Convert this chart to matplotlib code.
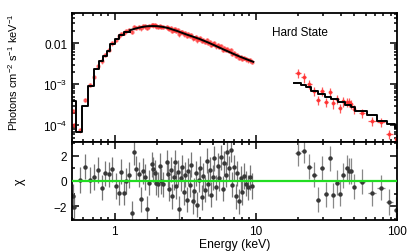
import numpy as np
import matplotlib
matplotlib.use("Agg")
import matplotlib.pyplot as plt
from matplotlib.ticker import LogLocator, NullFormatter, FixedLocator, MultipleLocator

plt.rcParams['font.family'] = ['Liberation Sans', 'DejaVu Sans']
plt.rcParams['mathtext.fontset'] = 'custom'
plt.rcParams['mathtext.rm'] = 'Liberation Sans'
plt.rcParams['mathtext.it'] = 'Liberation Sans'

# ---- model (soft band, stepped part) ----
soft_edges = [0.499, 0.538, 0.588, 0.645, 0.72, 0.773, 0.825, 0.881, 0.932, 1.0, 1.073, 1.16, 1.28]
soft_steps = [3.9e-4, 7e-5, 2.9e-4, 9.1e-4, 2.3e-3, 3.7e-3, 4.9e-3, 6.5e-3, 9.5e-3, 0.0126, 0.0157, 0.019]

# ---- model (soft band, fine binned part) ----
smooth_e = [1.28, 1.4, 1.55, 1.7, 1.85, 2.0, 2.2, 2.4, 2.6, 2.8, 3.0, 3.3, 3.6, 4.0, 4.4,
            4.8, 5.3, 5.8, 6.4, 7.0, 7.7, 8.5, 9.2, 9.6]
smooth_f = [0.0205, 0.0225, 0.0245, 0.0257, 0.026, 0.0258, 0.0248, 0.0232, 0.0212, 0.0195,
            0.0178, 0.0158, 0.0143, 0.0126, 0.011, 0.0097, 0.0083, 0.0072, 0.0062, 0.0054,
            0.0047, 0.0041, 0.0037, 0.0035]

# ---- model (hard band) ----
hard_edges = [18.8, 20.9, 22.8, 24.7, 27.5, 30.7, 34.2, 38.2, 42.6, 47.5, 50.3, 60.9, 71.9, 84.8, 97.5, 103]
hard_steps = [1.05e-3, 9.5e-4, 8.3e-4, 6.9e-4, 5.9e-4, 5.0e-4, 4.3e-4, 3.7e-4, 3.1e-4, 2.7e-4,
              2.2e-4, 1.8e-4, 1.3e-4, 1.1e-4, 8.7e-5]

# ---- soft data ----
soft_e = [0.505, 0.515, 0.57, 0.62, 0.67, 0.72, 0.77, 0.82, 0.86, 0.91, 0.96, 1.02, 1.07, 1.12, 1.17,
          1.21, 1.27, 1.32, 1.37, 1.43, 1.48, 1.53, 1.58, 1.64, 1.70, 1.76, 1.83, 1.88, 1.93, 1.98,
          2.04, 2.10, 2.15, 2.21, 2.34, 2.40, 2.45, 2.5, 2.56, 2.62, 2.68, 2.74, 2.8, 2.87, 2.94,
          3.01, 3.08, 3.16, 3.24, 3.32, 3.4, 3.48, 3.57, 3.66, 3.75, 3.85, 3.95, 4.05, 4.15, 4.26,
          4.37, 4.48, 4.6, 4.72, 4.84, 4.97, 5.1, 5.24, 5.38, 5.52, 5.67, 5.82, 5.98, 6.14, 6.3,
          6.47, 6.64, 6.82, 7.0, 7.2, 7.4, 7.6, 7.82, 8.05, 8.3, 8.56, 8.83, 9.1, 9.4]
soft_flux = [2.2e-4, 1.0e-4, 7.5e-5, 4.2e-4, 9.5e-4, 1.5e-3, 2.8e-3, 3.6e-3, 5.1e-3, 6.8e-3, 9.9e-3,
             0.0122, 0.0150, 0.0165, 0.0180, 0.0195, 0.0210, 0.0190, 0.024, 0.0238, 0.0241, 0.0228,
             0.0255, 0.0255, 0.0234, 0.0256, 0.0273, 0.0270, 0.0268, 0.0256, 0.0253, 0.0266, 0.0250,
             0.0245, 0.0251, 0.0237, 0.0219, 0.0234, 0.0200, 0.0214, 0.0223, 0.0195, 0.0203, 0.0164,
             0.0185, 0.0189, 0.0164, 0.0172, 0.0147, 0.0165, 0.0150, 0.0161, 0.0130, 0.0133, 0.0141,
             0.0117, 0.0129, 0.0131, 0.0111, 0.0119, 0.0107, 0.0118, 0.0103, 0.0105, 0.0090, 0.0094,
             0.0099, 0.0083, 0.0088, 0.0080, 0.0085, 0.0069, 0.0075, 0.0069, 0.0073, 0.0065, 0.0068,
             0.0055, 0.0058, 0.0048, 0.0052, 0.0043, 0.0047, 0.0042, 0.0043, 0.0040, 0.0038, 0.0038,
             0.0035]
soft_chi = [-1.2, -2.1, 0.08, 1.14, 0.08, 0.32, 0.87, -0.52, 0.61, 0.53, 0.93, -0.4, -0.92, 0.74, -0.92,
            0.0, 0.48, -2.56, 2.3, 0.98, 0.53, -1.45, 0.8, 0.32, -2.19, -0.13, 1.32, 0.93, 0.66, -0.13,
            -0.26, 1.19, 0.0, -0.26, 1.5, 0.53, -0.6, 0.9, -1.2, 0.3, 1.5, -0.4, 0.7, -2.2, 0.2,
            1.1, -0.9, 0.5, -1.5, 0.8, -0.3, 1.3, -1.6, -0.8, 0.6, -1.9, 0.1, 1.0, -1.3, 0.4,
            -0.7, 1.6, -0.2, 0.9, -1.1, 0.3, 1.8, -0.5, 1.2, 0.2, 1.9, -0.6, 1.4, 0.5, 2.3,
            1.0, 2.5, -0.3, 1.1, -1.2, 0.6, -1.6, 0.2, -0.9, 0.4, -0.2, -0.5, 0.3, -0.4]

# ---- hard data ----
hard_e = [20.0, 21.9, 24.0, 26.0, 27.8, 29.6, 31.6, 33.8, 35.5, 37.6, 39.4, 41.5, 43.9, 45.9, 47.5,
          49.6, 56.5, 66.5, 77.1, 88.0, 99.0]
hard_xerr = [0.9, 0.9, 1.0, 1.0, 0.9, 0.9, 1.0, 1.0, 0.9, 1.0, 1.0, 1.0, 1.1, 1.0, 0.8, 1.0, 3.0,
             4.0, 5.0, 5.0, 1.5]
hard_flux = [1.86e-3, 1.46e-3, 1.0e-3, 6.9e-4, 4.1e-4, 6.9e-4, 3.7e-4, 6.5e-4, 3.4e-4, 4.3e-4,
             2.6e-4, 3.8e-4, 3.7e-4, 3.6e-4, 3.3e-4, 2.5e-4, 2.0e-4, 1.3e-4, 1.2e-4, 6.0e-5, 4.6e-5]
hard_chi = [2.2, 2.4, 1.15, 0.5, -1.5, 1.0, -1.05, 1.8, -1.13, -0.13, -1.0, 0.45, 1.03, 0.8, 0.8,
            -0.45, -0.05, -0.98, -0.53, -1.67, -2.3]

red = '#ff3030'
W, H = 415, 253
fig = plt.figure(figsize=(W / 100, H / 100), dpi=100)
ax1 = fig.add_axes([72 / W, 1 - 143 / H, 325 / W, 129 / H])
ax2 = fig.add_axes([72 / W, 1 - 221 / H, 325 / W, 78 / H], sharex=ax1)

# top panel
sf = np.array(soft_flux)
ax1.errorbar(soft_e, soft_flux, yerr=0.12 * sf, fmt='o', ms=2.2, color=red, alpha=0.55,
             ecolor=red, elinewidth=0.9, capsize=0, zorder=2)
hf = np.array(hard_flux)
ax1.errorbar(hard_e, hard_flux, yerr=0.25 * hf, xerr=hard_xerr, fmt='o', ms=1.8, color=red,
             alpha=0.8, ecolor=red, elinewidth=0.9, capsize=0, zorder=2)
ax1.step(soft_edges, soft_steps + [soft_steps[-1]], where='post', color='black', lw=1.4, zorder=3)
ax1.plot(smooth_e, smooth_f, color='black', lw=1.4, zorder=3)
ax1.step(hard_edges, hard_steps + [hard_steps[-1]], where='post', color='black', lw=1.4, zorder=3)

ax1.set_xscale('log')
ax1.set_yscale('log')
ax1.set_xlim(0.5, 100)
ax1.set_ylim(3.9e-5, 0.054)
ax1.set_yticks([1e-4, 1e-3, 1e-2])
ax1.set_yticklabels(['$10^{-4}$', '$10^{-3}$', '0.01'])
ax1.yaxis.set_minor_locator(LogLocator(base=10, subs=np.arange(2, 10)))
ax1.yaxis.set_minor_formatter(NullFormatter())
ax1.set_ylabel('Photons cm$^{-2}$ s$^{-1}$ keV$^{-1}$', fontsize=7.9)
ax1.yaxis.set_label_coords(-0.16, 0.55)
ax1.text(0.70, 0.85, 'Hard State', transform=ax1.transAxes, ha='center', va='center', fontsize=8.5)
plt.setp(ax1.get_xticklabels(), visible=False)

# residual panel
ax2.errorbar(soft_e, soft_chi, yerr=1.0, fmt='o', ms=2.2, color='#383838', ecolor='#777777',
             elinewidth=0.9, capsize=0, zorder=2)
ax2.errorbar(hard_e, hard_chi, yerr=1.0, xerr=hard_xerr, fmt='o', ms=2.2, color='#383838',
             ecolor='#888888', elinewidth=0.9, capsize=0, zorder=2)
ax2.axhline(0, color='#22dd22', lw=1.6, zorder=3)
ax2.set_ylim(-3.1, 3.1)
ax2.yaxis.set_major_locator(FixedLocator([-2, 0, 2]))
ax2.yaxis.set_minor_locator(MultipleLocator(1))
ax2.set_ylabel('χ', fontsize=9)
ax2.yaxis.set_label_coords(-0.142, 0.5)
ax2.set_xlabel('Energy (keV)', fontsize=8.7, labelpad=1)
ax2.xaxis.set_major_locator(FixedLocator([1, 10, 100]))
ax2.set_xticklabels(['1', '10', '100'])
ax2.xaxis.set_minor_locator(LogLocator(base=10, subs=np.arange(2, 10)))
ax2.xaxis.set_minor_formatter(NullFormatter())

for ax in (ax1, ax2):
    ax.tick_params(which='both', direction='in', top=True, right=True, labelsize=8.5, width=1.1)
    ax.tick_params(which='major', length=5)
    ax.tick_params(which='minor', length=2.5)
    for s in ax.spines.values():
        s.set_linewidth(1.3)

fig.savefig('out.png', dpi=100)
